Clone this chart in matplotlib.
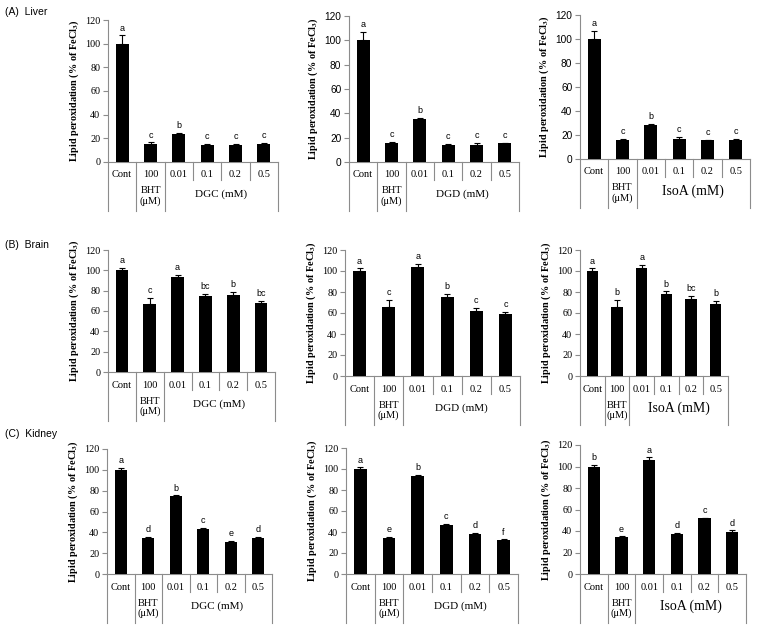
import matplotlib
matplotlib.use("Agg")
import matplotlib.pyplot as plt

plt.rcParams['mathtext.fontset'] = 'stix'

# ---------------- data ----------------
categories = ['Cont', '100', '0.01', '0.1', '0.2', '0.5']
compounds = ['DGC', 'DGD', 'IsoA']
tissues = ['(A)  Liver', '(B)  Brain', '(C)  Kidney']
yticks = [0, 20, 40, 60, 80, 100, 120]

liver_dgc = [100, 15.5, 23.5, 14, 14, 15.5]
liver_dgc_err = [7, 1, 1, 1.5, 1, 0.5]
liver_dgc_sig = ['a', 'c', 'b', 'c', 'c', 'c']
liver_dgd = [100, 15.5, 35, 14, 14, 15.5]
liver_dgd_err = [7, 1, 1, 1, 1.5, 0.5]
liver_dgd_sig = ['a', 'c', 'b', 'c', 'c', 'c']
liver_isoa = [100, 15.5, 28, 16.5, 15.5, 16]
liver_isoa_err = [7, 1, 1.5, 2, 0.5, 1]
liver_isoa_sig = ['a', 'c', 'b', 'c', 'c', 'c']

brain_dgc = [100, 66.5, 93, 74.5, 75.5, 68]
brain_dgc_err = [2.5, 6.5, 2.5, 2.5, 3.5, 2]
brain_dgc_sig = ['a', 'c', 'a', 'bc', 'b', 'bc']
brain_dgd = [100, 66, 104, 75.5, 61.5, 59]
brain_dgd_err = [2.5, 6.5, 2.5, 2.5, 3.5, 2]
brain_dgd_sig = ['a', 'c', 'a', 'b', 'c', 'c']
brain_isoa = [100, 66, 103, 78, 73, 69]
brain_isoa_err = [2.5, 6.5, 3, 2.5, 3, 2.5]
brain_isoa_sig = ['a', 'b', 'a', 'b', 'bc', 'b']

kidney_dgc = [100, 34.5, 74.5, 43.5, 31, 34.5]
kidney_dgc_err = [1.5, 1, 1, 0.5, 0.5, 1]
kidney_dgc_sig = ['a', 'd', 'b', 'c', 'e', 'd']
kidney_dgd = [100, 34.5, 93, 46.5, 38, 32.5]
kidney_dgd_err = [1.5, 1, 1.5, 1, 1.5, 0.5]
kidney_dgd_sig = ['a', 'e', 'b', 'c', 'd', 'f']
kidney_isoa = [100, 34.5, 106, 37.5, 52, 39.5]
kidney_isoa_err = [1.5, 0.5, 2.5, 0.5, 0.5, 1]
kidney_isoa_sig = ['b', 'e', 'a', 'd', 'c', 'd']

panels = [
    [(liver_dgc, liver_dgc_err, liver_dgc_sig),
     (liver_dgd, liver_dgd_err, liver_dgd_sig),
     (liver_isoa, liver_isoa_err, liver_isoa_sig)],
    [(brain_dgc, brain_dgc_err, brain_dgc_sig),
     (brain_dgd, brain_dgd_err, brain_dgd_sig),
     (brain_isoa, brain_isoa_err, brain_isoa_sig)],
    [(kidney_dgc, kidney_dgc_err, kidney_dgc_sig),
     (kidney_dgd, kidney_dgd_err, kidney_dgd_sig),
     (kidney_isoa, kidney_isoa_err, kidney_isoa_sig)],
]

# ---------------- layout (pixels: left, right, top(=120), zero) ----------------
W, H = 764, 626
layout = [
    [(108, 278, 20, 162), (349, 519, 16, 162), (580, 750, 15, 159)],
    [(108, 275, 250, 372), (345, 520, 250, 376), (580, 728, 250, 376)],
    [(107, 272, 449, 574), (346, 518, 448, 574), (580, 746, 445, 574)],
]
label_pos = [12, 245, 434]
sans_ytick = [[False, True, True], [False, False, False], [False, False, False]]

SERIF = 'Liberation Serif'
SANS = 'Liberation Sans'
GRAY = '#8c8c8c'

fig = plt.figure(figsize=(W / 100, H / 100), dpi=100)

for r in range(3):
    fig.text(5 / W, 1 - label_pos[r] / H, tissues[r], fontsize=7.5,
             family=SANS, va='center', ha='left')
    for c in range(3):
        vals, errs, sig = panels[r][c]
        l, rr, t, z = layout[r][c]
        hpx = z - t
        ax = fig.add_axes([l / W, 1 - z / H, (rr - l) / W, hpx / H])
        x = list(range(len(categories)))
        ax.bar(x, vals, width=0.45, color='black', zorder=3)
        ax.errorbar(x, vals, yerr=[[0] * len(vals), errs], fmt='none',
                    ecolor='black', elinewidth=0.8, capsize=2.0,
                    capthick=0.8, zorder=4)
        for i in x:
            ax.annotate(sig[i], (i, vals[i] + errs[i]), xytext=(0, 2.0),
                        textcoords='offset points', ha='center', va='bottom',
                        fontsize=6.5, family=SANS)
        ax.set_xlim(-0.5, len(categories) - 0.5)
        ax.set_ylim(0, 120)
        ax.set_yticks(yticks)
        ax.set_yticklabels([str(v) for v in yticks],
                           family=SANS if sans_ytick[r][c] else SERIF,
                           fontsize=7.3)
        ax.tick_params(axis='y', length=3.5, width=0.8, color=GRAY, pad=2)
        ax.set_xticks([])
        for s in ['top', 'right']:
            ax.spines[s].set_visible(False)
        ax.spines['left'].set_color(GRAY)
        ax.spines['bottom'].set_color(GRAY)
        ax.spines['left'].set_linewidth(0.8)
        ax.spines['bottom'].set_linewidth(0.8)
        ax.set_ylabel(r'Lipid peroxidation (% of FeCl$_\mathbf{3}$)',
                      family=SERIF, fontweight='bold', fontsize=7.4, labelpad=3)

        trans = ax.get_xaxis_transform()
        full = 49 / hpx
        short = 18 / hpx
        for xb in [-0.5, 0.5, 1.5, 5.5]:
            ax.plot([xb, xb], [0, -full], transform=trans, clip_on=False,
                    color=GRAY, lw=0.8)
        for xb in [2.5, 3.5, 4.5]:
            ax.plot([xb, xb], [0, -short], transform=trans, clip_on=False,
                    color=GRAY, lw=0.8)
        for i, cat in enumerate(categories):
            ax.text(i, -13 / hpx, cat, transform=trans, ha='center',
                    va='center', fontsize=7.5, family=SERIF)
        ax.text(1, -29 / hpx, 'BHT', transform=trans, ha='center',
                va='center', fontsize=7.5, family=SERIF)
        ax.text(1, -39.5 / hpx, '(μM)', transform=trans, ha='center',
                va='center', fontsize=7.5, family=SERIF)
        gsize = 10 if compounds[c] == 'IsoA' else 8
        ax.text(3.5, -32 / hpx, compounds[c] + ' (mM)', transform=trans,
                ha='center', va='center', fontsize=gsize, family=SERIF)

fig.savefig('out.png', dpi=100)
